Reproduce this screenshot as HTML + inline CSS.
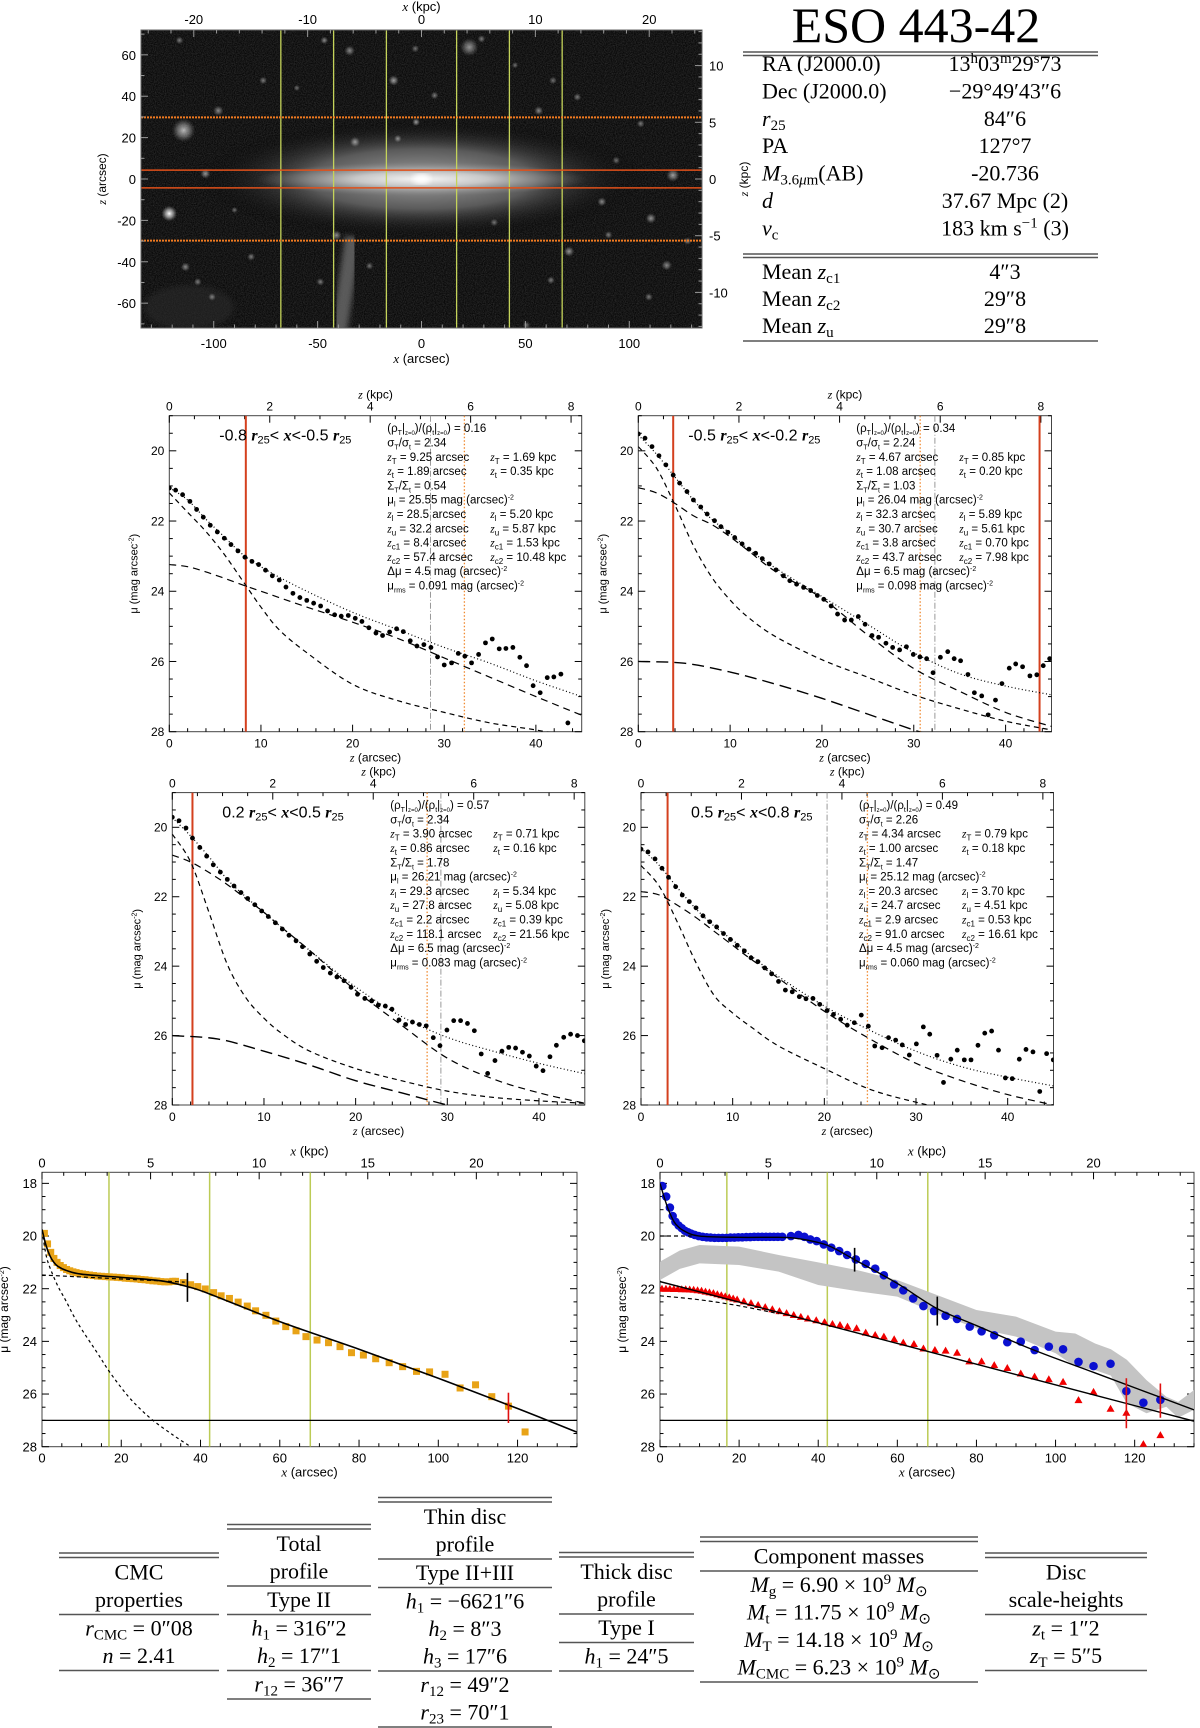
<!DOCTYPE html>
<html><head><meta charset="utf-8"><title>ESO 443-42</title>
<style>
html,body{margin:0;padding:0;background:#fff;}
svg{display:block;}
text{font-family:"Liberation Sans",sans-serif;}
.serif{font-family:"Liberation Serif",serif;}
</style></head>
<body>
<svg id="fig" xmlns="http://www.w3.org/2000/svg" width="1200" height="1728" viewBox="0 0 1200 1728">
<defs>
<radialGradient id="galHalo"><stop offset="0" stop-color="#a0a0a0"/><stop offset="0.5" stop-color="#5a5a5a"/><stop offset="1" stop-color="#000" stop-opacity="0"/></radialGradient>
<radialGradient id="galCore"><stop offset="0" stop-color="#f4f4f4"/><stop offset="0.4" stop-color="#c8c8c8"/><stop offset="1" stop-color="#888" stop-opacity="0"/></radialGradient>
<radialGradient id="starG"><stop offset="0" stop-color="#fff"/><stop offset="0.5" stop-color="#bbb" stop-opacity="0.7"/><stop offset="1" stop-color="#888" stop-opacity="0"/></radialGradient>
<filter id="noise"><feTurbulence type="fractalNoise" baseFrequency="0.9" numOctaves="2" seed="3"/><feColorMatrix type="matrix" values="0 0 0 0 1  0 0 0 0 1  0 0 0 0 1  0.6 0 0 0 -0.15"/></filter>
<filter id="blur3"><feGaussianBlur stdDeviation="3"/></filter>
</defs>
</svg>
<script>
// ---------------- DATA ----------------
const imgGreenX = [-67.7, -42.3, -16.9, 16.9, 42.3, 67.7];
const imgOrangeSolidZ = [4.3, -4.3];
const imgOrangeDotZ = [29.8, -29.8];
const imgStars = [[-114.5,23.5,9,0.7],[-121.4,-16.7,6,1],[121,1.8,5,0.6],[23,63.7,7,0.55],[-13.4,47.6,4,0.6],[-34.6,62,4,0.5],[-97.8,33,4,0.5],[-2.6,27.5,3,0.6],[-32,17.9,4,0.55],[-11.4,19.5,3,0.5],[-104,2.6,4,0.55],[110.4,-19,4,0.55],[86.8,-11,3.5,0.5],[71,-35,4,0.55],[118,-41.7,4,0.5],[75,39.6,3,0.45],[56.4,33,3.5,0.5],[6.3,40.4,3,0.45],[-113.6,-42.5,3.5,0.5],[-107.7,-49.7,3,0.45],[-100.8,-57,3,0.45],[-82,-37.6,3,0.45],[-48.7,-49.7,3,0.45],[-40.9,-27.2,4,0.5],[62.3,-48.9,3,0.45],[109.4,-57,3,0.45],[50.5,-70.6,3,0.4],[93.7,9,3,0.4],[105.5,26.7,3,0.45],[-116.5,67,3,0.45],[-46.8,67,3,0.5],[28.9,67.7,3,0.45],[63.3,47.6,3,0.4],[-76.2,47.6,3,0.45],[-3,63,3,0.4],[-60,44,2.5,0.4],[35,-21,3,0.4],[-25,-42,3,0.4],[90,-27,3,0.45],[128,-30,3,0.45],[-90,-15,2.5,0.4],[45,55,2.5,0.4]];

const gridZ = [0,2,4,6,8,10,12,15,20,25,30,35,40,45];
const outerZ = [0,5,10,15,20,25,30,32];

const p1Z = [0,0.69,1.45,2.25,2.98,3.71,4.47,5.24,6.0,6.73,7.49,8.25,9.02,9.75,10.5,11.24,12.0,12.73,13.49,14.25,15.0,15.75,16.51,17.27,18.04,18.76,19.53,20.29,21.02,21.78,22.55,23.27,24.04,24.8,25.53,26.29,27.02,27.78,28.55,29.27,30.0,30.8,31.53,32.25,32.98,33.75,34.5,35.24,36.0,36.73,37.49,38.25,38.98,39.7,40.47,41.24,41.96,42.73,43.49];
const p1Mu = [21.06,21.12,21.25,21.44,21.67,21.89,22.12,22.31,22.49,22.67,22.85,23.03,23.15,23.24,23.4,23.56,23.68,23.88,24.06,24.18,24.26,24.34,24.42,24.56,24.67,24.71,24.69,24.77,24.86,25.04,25.19,25.26,25.16,25.07,25.15,25.41,25.56,25.52,25.6,25.87,26.1,26.04,25.77,25.85,26.04,25.8,25.47,25.36,25.64,25.63,25.6,25.88,26.12,26.69,26.89,26.46,26.44,26.36,27.75];
const p1Thin = [21.2,21.75,22.3,22.95,23.7,24.45,25.1,25.75,26.65,27.12,27.45,27.75,27.95,28.2];
const p1Thick = [23.24,23.3,23.45,23.63,23.82,24.0,24.18,24.45,24.88,25.35,25.9,26.45,27.0,27.53];
const p1Sum = [21.05,21.4,21.95,22.45,22.95,23.3,23.6,24.0,24.6,25.1,25.6,26.05,26.55,27.0];

const p2Z = [0,0.73,1.49,2.25,3.0,3.8,4.5,5.3,6.0,6.8,7.5,8.3,9.0,9.76,10.5,11.3,12.05,12.78,13.5,14.26,15.0,15.8,16.5,17.24,18.0,18.77,19.5,20.2,21.0,21.7,22.47,23.2,23.96,24.7,25.45,26.17,26.97,27.7,28.46,29.2,29.95,30.67,31.4,32.1,32.9,33.7,34.4,35.1,35.9,36.6,37.4,38.1,38.9,39.6,40.4,41.1,41.85,42.65,43.4,44.1,44.8];
const p2Mu = [19.52,19.64,19.88,20.14,20.4,20.69,20.92,21.16,21.4,21.6,21.8,21.99,22.16,22.32,22.47,22.65,22.8,22.92,23.07,23.22,23.39,23.56,23.7,23.8,23.89,23.98,24.12,24.23,24.42,24.65,24.82,24.82,24.72,24.94,25.26,25.31,25.48,25.6,25.67,25.58,25.8,25.87,25.92,26.32,25.88,25.72,25.92,25.98,26.37,26.89,26.98,27.52,27.1,26.63,26.19,26.07,26.15,26.41,26.38,26.12,25.92];
const p2Thin = [19.88,20.5,21.55,22.7,23.6,24.25,24.75,25.3,25.95,26.45,26.95,27.35,27.7,27.95];
const p2Thick = [21.05,21.2,21.5,21.85,22.1,22.45,22.85,23.45,24.2,25.25,26.2,26.85,27.45,27.85];
const p2Sum = [19.55,20.1,20.75,21.4,21.95,22.35,22.8,23.35,24.15,24.95,25.75,26.35,26.7,26.95];
const p2Outer = [26.0,26.05,26.3,26.65,27.05,27.5,27.95,28.1];

const p3Z = [0,0.73,1.49,2.2,3.0,3.75,4.47,5.24,6.0,6.73,7.49,8.22,9.0,9.75,10.47,11.24,12.0,12.73,13.5,14.2,15.0,15.75,16.47,17.24,17.96,18.73,19.5,20.2,21.0,21.75,22.47,23.24,23.96,24.73,25.45,26.2,26.95,27.7,28.47,29.2,29.96,30.7,31.45,32.2,32.95,33.7,34.4,35.2,35.96,36.7,37.45,38.2,38.95,39.7,40.44,41.2,41.9,42.7,43.45,44.2,44.95];
const p3Mu = [19.71,19.81,20.02,20.31,20.58,20.83,21.08,21.29,21.5,21.69,21.88,22.05,22.23,22.41,22.57,22.75,22.93,23.11,23.27,23.44,23.65,23.86,24.04,24.2,24.31,24.42,24.61,24.81,24.93,25.0,25.12,25.15,25.24,25.55,25.68,25.61,25.68,25.72,26.06,26.29,25.84,25.57,25.57,25.65,25.86,26.53,27.09,26.72,26.45,26.34,26.36,26.48,26.59,26.88,27.01,26.61,26.28,26.05,25.96,26.0,26.15];
const p3Thin = [20.2,21.0,22.45,23.95,24.9,25.5,25.95,26.45,26.95,27.3,27.6,27.78,27.88,27.95];
const p3Thick = [20.8,21.0,21.3,21.65,22.05,22.45,22.9,23.55,24.7,25.7,26.65,27.25,27.65,27.95];
const p3Sum = [19.72,20.25,20.85,21.5,22.0,22.45,22.9,23.55,24.6,25.45,26.05,26.45,26.8,27.1];
const p3Outer = [26.0,26.1,26.45,26.85,27.3,27.65,28.0,28.1];

const p4Z = [0,0.76,1.53,2.29,3.0,3.78,4.5,5.27,6.0,6.76,7.5,8.25,9.0,9.75,10.5,11.27,12.0,12.76,13.5,14.25,15.0,15.75,16.5,17.27,18.0,18.76,19.5,20.3,21.0,21.78,22.5,23.27,24.03,24.8,25.5,26.3,27.0,27.78,28.5,29.27,30.04,30.8,31.5,32.3,33.0,33.8,34.5,35.27,36.0,36.76,37.5,38.25,39.0,39.75,40.5,41.27,42.0,42.76,43.5,44.25,44.98];
const p4Mu = [20.63,20.71,20.91,21.18,21.44,21.71,21.95,22.14,22.32,22.55,22.72,22.87,23.06,23.23,23.4,23.56,23.76,23.87,24.05,24.22,24.44,24.69,24.74,24.88,24.94,24.93,25.1,25.28,25.39,25.53,25.7,25.63,25.41,25.73,26.3,26.35,26.06,26.13,26.27,26.56,26.24,25.75,25.96,26.57,27.35,26.68,26.42,26.7,26.7,26.28,25.93,25.87,26.42,27.22,27.24,26.68,26.4,26.47,27.61,26.52,26.7];
const p4Thin = [21.1,21.7,22.75,23.9,24.85,25.35,25.75,26.3,26.95,27.55,27.92,28.2,28.4,28.6];
const p4Thick = [21.85,21.95,22.25,22.6,23.0,23.4,23.8,24.35,25.3,26.1,26.8,27.3,27.7,28.0];
const p4Sum = [20.6,21.1,21.75,22.35,22.85,23.25,23.7,24.3,25.15,25.85,26.45,26.9,27.2,27.45];

const p1Ann = ['0.16','2.34','9.25','1.69','1.89','0.35','0.54','25.55','28.5','5.20','32.2','5.87','8.4','1.53','57.4','10.48','4.5','0.091'];
const p2Ann = ['0.34','2.24','4.67','0.85','1.08','0.20','1.03','26.04','32.3','5.89','30.7','5.61','3.8','0.70','43.7','7.98','6.5','0.098'];
const p3Ann = ['0.57','2.34','3.90','0.71','0.86','0.16','1.78','26.21','29.3','5.34','27.8','5.08','2.2','0.39','118.1','21.56','6.5','0.083'];
const p4Ann = ['0.49','2.26','4.34','0.79','1.00','0.18','1.47','25.12','20.3','3.70','24.7','4.51','2.9','0.53','91.0','16.61','4.5','0.060'];

const p5X = [0.6,1.4,2.2,3.0,3.8,4.6,5.4,6.2,7.0,7.8,8.6,9.4,10.2,11,12,13,14,15,16,17,18,19,20,21,22,23,24,25,26,27,28,29,30,31,32,33,33.7,35.65,37.5,39.3,41.2,43.3,45.2,47.3,49.5,51.8,53.9,56.5,59.0,61.5,64.1,66.6,69.4,72.3,75.2,78.1,81.1,84.2,87.6,91.0,94.5,97.8,101.7,105.5,109.4,113.5,117.7,121.9];
const p5Mu = [19.9,20.3,20.62,20.85,21.0,21.12,21.2,21.27,21.32,21.36,21.39,21.42,21.44,21.46,21.48,21.5,21.52,21.53,21.54,21.55,21.56,21.57,21.58,21.6,21.61,21.62,21.63,21.65,21.66,21.68,21.7,21.71,21.73,21.74,21.74,21.72,21.72,21.77,21.85,21.92,22.01,22.15,22.27,22.37,22.51,22.66,22.84,23.01,23.23,23.44,23.6,23.82,23.95,24.05,24.2,24.43,24.52,24.66,24.81,24.96,25.14,25.16,25.25,25.77,25.65,26.1,26.46,27.44];
const p5FitX = [0,1,2,3,4,6,10,20,30,36.7,42.3,60,80,100,120,135];
const p5FitMu = [19.75,20.35,20.75,21.0,21.15,21.3,21.45,21.57,21.7,21.92,22.2,23.25,24.3,25.4,26.55,27.45];
const p5CmcX = [0,1,2,4,6,9,14,17,21,24,28,33,37.5];
const p5CmcMu = [19.8,20.7,21.2,21.9,22.45,23.3,24.45,25.15,25.95,26.45,27.0,27.55,28.0];
const p5DiscX = [0,36];
const p5DiscMu = [21.48,21.75];

const p6BlueX = [0.6,1.56,2.5,3.2,3.9,4.7,5.5,6.3,7.1,7.9,8.8,9.8,10.8,11.8,12.8,13.8,14.8,15.8,16.8,17.8,18.8,19.8,20.8,21.8,22.8,23.8,24.8,25.8,26.8,27.8,28.8,29.8,30.9,33.1,35,36.5,38,39.6,41.4,43.3,45.3,47.3,49.5,52,54.4,56.6,59.2,61.5,64,66.6,69.3,72.2,75.1,78.3,81.3,84.5,87.8,91.2,94.7,98.3,101.9,105.8,109.6,113.9,117.9,122.2,126.5];
const p6BlueMu = [18.1,18.5,18.92,19.24,19.46,19.6,19.7,19.8,19.86,19.91,19.96,20.0,20.03,20.05,20.06,20.07,20.07,20.07,20.07,20.06,20.06,20.05,20.05,20.04,20.04,20.03,20.03,20.03,20.03,20.03,20.03,20.03,20.03,20.0,19.96,20.03,20.13,20.19,20.32,20.44,20.57,20.72,20.89,21.06,21.24,21.49,21.84,22.06,22.37,22.66,22.85,23.03,23.15,23.44,23.62,23.77,24.03,24.01,24.33,24.2,24.3,24.78,24.94,24.85,25.89,26.33,26.22];
const p6RedX = [0.5,1.5,2.5,3.5,4.5,5.5,6.5,7.5,8.5,9.5,10.5,11.5,12.5,13.5,14.5,15.5,16.5,17.5,18.5,19.5,21.2,23,24.8,26.6,28.4,30.2,32,33.8,35.6,37.4,39.5,41.6,43.6,45.5,47.4,49.7,52,54.4,56.6,59.2,61.5,64.2,66.6,69.5,72.2,75.1,78.2,81.3,84.5,87.8,91.2,94.7,98.3,101.9,105.8,109.6,113.9,117.9,122.2,126.5];
const p6RedMu = [22.0,22.0,22.0,22.01,22.01,22.02,22.02,22.03,22.04,22.06,22.08,22.11,22.14,22.17,22.21,22.25,22.29,22.33,22.37,22.41,22.48,22.55,22.62,22.7,22.78,22.85,22.93,23.0,23.07,23.13,23.2,23.27,23.34,23.38,23.44,23.5,23.67,23.76,23.82,23.92,24.05,24.1,24.27,24.33,24.35,24.43,24.76,24.76,24.9,25.01,25.22,25.34,25.44,25.54,26.23,25.92,26.56,26.71,27.9,27.56];
const p6BandX = [0,5,10,20,30,40,50,60,70,80,90,100,105,110,114,118,123,128,131,135];
const p6BandTop = [20.97,20.55,20.34,20.4,20.72,21.0,21.3,21.67,22.24,22.81,23.06,23.63,23.7,24.08,24.3,24.7,25.47,26.1,26.3,25.85];
const p6BandBot = [21.67,21.25,21.04,21.1,21.35,21.86,22.1,22.3,22.94,23.5,23.82,24.45,24.96,25.09,25.3,26.35,26.73,26.48,26.9,26.6];
const p6BlueFitX = [0,1,2,3,4,6,10,20,30,35,42.3,49.2,60,70,80,94,110,135];
const p6BlueFitMu = [18.0,18.5,18.95,19.3,19.55,19.8,20.0,20.05,20.05,20.1,20.35,20.9,21.8,22.75,23.4,24.3,25.2,26.6];
const p6RedFitX = [0,30,60,90,120,135];
const p6RedFitMu = [21.73,22.9,24.08,25.26,26.44,27.03];
const p6RedDashX = [0,10,20,30];
const p6RedDashMu = [22.27,22.42,22.65,22.95];
const p6BlueDashX = [0,8];
const p6BlueDashMu = [20.0,20.0];

// ---------------- HELPERS ----------------
const NS = 'http://www.w3.org/2000/svg';
const svg = document.getElementById('fig');
function mk(tag, attrs, parent) {
  const e = document.createElementNS(NS, tag);
  for (const k in attrs) e.setAttribute(k, attrs[k]);
  (parent || svg).appendChild(e);
  return e;
}
function T(str, attrs, parent) { const e = mk('text', attrs, parent); e.innerHTML = str; return e; }
function smooth(pts) {
  let d = 'M' + pts[0][0].toFixed(2) + ',' + pts[0][1].toFixed(2);
  for (let i = 0; i < pts.length - 1; i++) {
    const p0 = pts[i - 1] || pts[i], p1 = pts[i], p2 = pts[i + 1], p3 = pts[i + 2] || p2;
    const c1 = [p1[0] + (p2[0] - p0[0]) / 6, p1[1] + (p2[1] - p0[1]) / 6];
    const c2 = [p2[0] - (p3[0] - p1[0]) / 6, p2[1] - (p3[1] - p1[1]) / 6];
    d += 'C' + c1.map(v => v.toFixed(2)).join(',') + ' ' + c2.map(v => v.toFixed(2)).join(',') + ' ' + p2[0].toFixed(2) + ',' + p2[1].toFixed(2);
  }
  return d;
}
const it = s => '<tspan font-family="Liberation Serif" font-style="italic">' + s + '</tspan>';
const sb = (s, fs) => '<tspan baseline-shift="-2.5" font-size="' + (fs || 8) + '">' + s + '</tspan>';
const sp = (s, fs) => '<tspan baseline-shift="4" font-size="' + (fs || 8) + '">' + s + '</tspan>';
const MUL = 'μ (mag arcsec' + sp('-2', 7) + ')';

function drawAxes(g, b, o) {
  const sx = v => b.x0 + (v - o.xr[0]) / (o.xr[1] - o.xr[0]) * (b.x1 - b.x0);
  const sy = v => b.y0 + (v - o.yr[0]) / (o.yr[1] - o.yr[0]) * (b.y1 - b.y0);
  const tc = o.tc || '#000', fs = o.fs || 12;
  const frame = mk('rect', {x: b.x0, y: b.y0, width: b.x1 - b.x0, height: b.y1 - b.y0, fill: 'none', stroke: o.fc || '#444', 'stroke-width': 1}, g);
  
  
  for (let v = Math.ceil(o.xr[0] / o.xMin - 1e-9) * o.xMin; v <= o.xr[1] + 1e-9; v += o.xMin) {
    const maj = Math.abs(v / o.xMaj - Math.round(v / o.xMaj)) < 1e-6, L = maj ? 7 : 3.5, X = sx(v);
    const t = mk('line', {x1: X, y1: b.y1, x2: X, y2: b.y1 - L, stroke: tc, 'stroke-width': 1}, g);
    
    
    if (maj) {
      const lb = T(String(Math.round(v)), {x: X, y: b.y1 + 16, 'text-anchor': 'middle', 'font-size': fs}, g);
      
      
    }
  }
  for (let k = Math.ceil(o.xr[0] / o.topScale / o.topMin - 1e-9) * o.topMin; k * o.topScale <= o.xr[1] + 1e-9; k += o.topMin) {
    const maj = Math.abs(k / o.topMaj - Math.round(k / o.topMaj)) < 1e-6, L = maj ? 7 : 3.5, X = sx(k * o.topScale);
    const t = mk('line', {x1: X, y1: b.y0, x2: X, y2: b.y0 + L, stroke: tc, 'stroke-width': 1}, g);
    
    
    if (maj) {
      const lb = T(String(Math.round(k)), {x: X, y: b.y0 - 5, 'text-anchor': 'middle', 'font-size': fs}, g);
      
      
    }
  }
  const yLo = Math.min(o.yr[0], o.yr[1]), yHi = Math.max(o.yr[0], o.yr[1]);
  for (let v = Math.ceil(yLo / o.yMin - 1e-9) * o.yMin; v <= yHi + 1e-9; v += o.yMin) {
    const maj = Math.abs(v / o.yMaj - Math.round(v / o.yMaj)) < 1e-6, L = maj ? 7 : 3.5, Y = sy(v);
    const t = mk('line', {x1: b.x0, y1: Y, x2: b.x0 + L, y2: Y, stroke: tc, 'stroke-width': 1}, g);
    
    
    const t2 = mk('line', {x1: b.x1, y1: Y, x2: b.x1 - L, y2: Y, stroke: tc, 'stroke-width': 1}, g);
    
    
    if (maj) {
      const lb = T(String(Math.round(v)), {x: b.x0 - 5, y: Y + fs * 0.36, 'text-anchor': 'end', 'font-size': fs}, g);
      
      
    }
  }
  const xt = T(o.xLabel, {x: (b.x0 + b.x1) / 2, y: b.y1 + 30, 'text-anchor': 'middle', 'font-size': fs}, g);
  
  
  const tt = T(o.topLabel, {x: (b.x0 + b.x1) / 2, y: b.y0 - 17, 'text-anchor': 'middle', 'font-size': fs}, g);
  
  
  const yx = b.x0 - o.yOff, yc = (b.y0 + b.y1) / 2;
  const yt = T(o.yLabel, {x: yx, y: yc, 'text-anchor': 'middle', 'font-size': fs - 1, transform: 'rotate(-90 ' + yx + ' ' + yc + ')'}, g);
  
  
  return {sx, sy};
}
function clipFor(id, b) {
  const cp = mk('clipPath', {id: id}, svg);
  mk('rect', {x: b.x0, y: b.y0, width: b.x1 - b.x0, height: b.y1 - b.y0}, cp);
  return 'url(#' + id + ')';
}
function curve(g, xs, ys, sx, sy, attrs) {
  const pts = []; const n = Math.min(xs.length, ys.length);
  for (let i = 0; i < n; i++) pts.push([sx(xs[i]), sy(ys[i])]);
  const a = Object.assign({d: smooth(pts), fill: 'none', stroke: '#000', 'stroke-width': 1.2}, attrs);
  return mk('path', a, g);
}
function vline(g, X, b, attrs) { return mk('line', Object.assign({x1: X, y1: b.y0, x2: X, y2: b.y1}, attrs), g); }

// ---------------- IMAGE PANEL ----------------
(function () {
  const b = {x0: 141, x1: 702, y0: 30, y1: 328};
  const g = mk('g', {});
  
  
  const sx = v => b.x0 + (v + 135) / 270 * (b.x1 - b.x0);
  const sy = v => b.y0 + (72 - v) / 144 * (b.y1 - b.y0);
  const cl = clipFor('clipImg', b);
  const ig = mk('g', {'clip-path': cl}, g);
  const bg = mk('rect', {x: b.x0, y: b.y0, width: b.x1 - b.x0, height: b.y1 - b.y0, fill: '#080808'}, ig);
  
  
  const nz = mk('rect', {x: b.x0, y: b.y0, width: b.x1 - b.x0, height: b.y1 - b.y0, filter: 'url(#noise)', opacity: 0.4}, ig);
  
  
  const stream = mk('path', {d: 'M' + sx(-33) + ',' + sy(-28) + ' Q' + sx(-36) + ',' + sy(-50) + ' ' + sx(-40) + ',' + sy(-75), stroke: '#666', 'stroke-width': 16, fill: 'none', filter: 'url(#blur3)', opacity: 0.85}, ig);
  
  
  const patch = mk('ellipse', {cx: sx(-112), cy: sy(-62), rx: 45, ry: 22, fill: '#2c2c2c', filter: 'url(#blur3)', opacity: 0.6}, ig);
  
  
  const halo = mk('ellipse', {cx: sx(0), cy: sy(0), rx: 225, ry: 60, fill: 'url(#galHalo)'}, ig);
  
  
  const core = mk('ellipse', {cx: sx(0), cy: sy(0), rx: 165, ry: 17, fill: 'url(#galCore)'}, ig);
  
  
  const nuc = mk('ellipse', {cx: sx(0), cy: sy(0), rx: 9, ry: 5, fill: '#fff', filter: 'url(#blur3)'}, ig);
  
  
  for (const s of imgStars) {
    const st = mk('circle', {cx: sx(s[0]), cy: sy(s[1]), r: s[2] * 1.3, fill: 'url(#starG)', opacity: s[3]}, ig);
    
    
  }
  for (const x of imgGreenX) {
    const l = mk('line', {x1: sx(x), y1: b.y0, x2: sx(x), y2: b.y1, stroke: '#c4d35a', 'stroke-width': 1.3}, ig);
    
    
  }
  for (const z of imgOrangeSolidZ) {
    const l = mk('line', {x1: b.x0, y1: sy(z), x2: b.x1, y2: sy(z), stroke: '#e0501a', 'stroke-width': 1.5}, ig);
    
    
  }
  for (const z of imgOrangeDotZ) {
    const l = mk('line', {x1: b.x0, y1: sy(z), x2: b.x1, y2: sy(z), stroke: '#f07a20', 'stroke-width': 2, 'stroke-dasharray': '2,1'}, ig);
    
    
  }
  const fr = mk('rect', {x: b.x0, y: b.y0, width: b.x1 - b.x0, height: b.y1 - b.y0, fill: 'none', stroke: '#666'}, g);
  
  
  const fs = 13;
  for (let v = -130; v <= 130; v += 10) {
    const maj = v % 50 === 0, X = sx(v);
    const t = mk('line', {x1: X, y1: b.y1, x2: X, y2: b.y1 - (maj ? 7 : 3.5), stroke: '#999'}, g);
    
    
    if (maj) {
      const lb = T(String(v), {x: X, y: b.y1 + 20, 'text-anchor': 'middle', 'font-size': fs}, g);
      
      
    }
  }
  for (let k = -24; k <= 24; k += 2) {
    const maj = k % 10 === 0, X = sx(k * 5.48);
    const t = mk('line', {x1: X, y1: b.y0, x2: X, y2: b.y0 + (maj ? 7 : 3.5), stroke: '#999'}, g);
    
    
    if (maj) {
      const lb = T(String(k), {x: X, y: b.y0 - 6, 'text-anchor': 'middle', 'font-size': fs}, g);
      
      
    }
  }
  for (let v = -70; v <= 70; v += 10) {
    const maj = v % 20 === 0, Y = sy(v);
    const t = mk('line', {x1: b.x0, y1: Y, x2: b.x0 + (maj ? 7 : 3.5), y2: Y, stroke: '#999'}, g);
    
    
    if (maj) {
      const lb = T(String(v), {x: b.x0 - 5, y: Y + 5, 'text-anchor': 'end', 'font-size': fs}, g);
      
      
    }
  }
  for (let k = -13; k <= 13; k += 1) {
    const maj = k % 5 === 0, Y = sy(k * 5.48);
    const t = mk('line', {x1: b.x1, y1: Y, x2: b.x1 - (maj ? 7 : 3.5), y2: Y, stroke: '#999'}, g);
    
    
    if (maj) {
      const lb = T(String(k), {x: b.x1 + 7, y: Y + 5, 'text-anchor': 'start', 'font-size': fs}, g);
      
      
    }
  }
  const xt = T(it('x') + ' (arcsec)', {x: sx(0), y: b.y1 + 35, 'text-anchor': 'middle', 'font-size': fs}, g);
  
  
  const tt = T(it('x') + ' (kpc)', {x: sx(0), y: 11, 'text-anchor': 'middle', 'font-size': fs}, g);
  
  
  const yt = T(it('z') + ' (arcsec)', {x: 106, y: sy(0), 'text-anchor': 'middle', 'font-size': fs - 1, transform: 'rotate(-90 106 ' + sy(0) + ')'}, g);
  
  
  const rt = T(it('z') + ' (kpc)', {x: 748, y: sy(0), 'text-anchor': 'middle', 'font-size': fs - 1, transform: 'rotate(-90 748 ' + sy(0) + ')'}, g);
  
  
})();

// ---------------- PROFILE PANELS ----------------
function profile(id, b, dz, dmu, thin, thick, sum, outer, reds, orange, gray, titleA, titleB, ann) {
  const g = mk('g', {});
  
  
  const ax = drawAxes(g, b, {xr: [0, 45], yr: [19, 28], xMaj: 10, xMin: 2, topScale: 5.48, topMaj: 2, topMin: 0.5, yMaj: 2, yMin: 0.5, fs: 12, yOff: 32,
    xLabel: it('z') + ' (arcsec)', topLabel: it('z') + ' (kpc)', yLabel: MUL});
  const sx = ax.sx, sy = ax.sy;
  const cg = mk('g', {'clip-path': clipFor('clip-' + id, b)}, g);
  for (const r of reds) {
    const l = vline(cg, sx(r), b, {stroke: '#d4401e', 'stroke-width': 2});
    
    
  }
  const lo = vline(cg, sx(orange), b, {stroke: '#f08a30', 'stroke-width': 1.3, 'stroke-dasharray': '1.5,2'});
  
  
  const lg = vline(cg, sx(gray), b, {stroke: '#999', 'stroke-width': 1, 'stroke-dasharray': '6,2,1,2'});
  
  
  const c1 = curve(cg, gridZ, thin, sx, sy, {'stroke-dasharray': '5,4'});
  
  
  const c2 = curve(cg, gridZ, thick, sx, sy, {'stroke-dasharray': '7,5'});
  
  
  if (outer) {
    const c4 = curve(cg, outerZ, outer, sx, sy, {'stroke-dasharray': '12,6', 'stroke-width': 1.4});
    
    
  }
  const c3 = curve(cg, gridZ, sum, sx, sy, {'stroke-dasharray': '1,2.5'});
  
  
  const n = Math.min(dz.length, dmu.length);
  for (let i = 0; i < n; i++) {
    const d = mk('circle', {cx: sx(dz[i]), cy: sy(dmu[i]), r: 2.4, fill: '#000'}, cg);
    
    
  }
  const bi = s => '<tspan font-family="Liberation Serif" font-style="italic" font-weight="bold">' + s + '</tspan>';
  const ttl = T(titleA + ' ' + bi('r') + sb('25', 11) + '&lt; ' + bi('x') + '&lt;' + titleB + ' ' + bi('r') + sb('25', 11),
    {x: b.x0 + 50, y: b.y0 + 25, 'font-size': 16}, g);
  
  
  const a = ann, X1 = b.x0 + 218, X2 = b.x0 + 321, Y0 = b.y0 + 16.5, dy = 14.3, fs = 11.5;
  const rows = [
    ['(ρ' + sb('T', 7) + '|' + sb('z=0', 6) + ')/(ρ' + sb('t', 7) + '|' + sb('z=0', 6) + ') = ' + a[0], null],
    ['σ' + sb('T', 7) + '/σ' + sb('t', 7) + ' = ' + a[1], null],
    [it('z') + sb('T') + ' = ' + a[2] + ' arcsec', it('z') + sb('T') + ' = ' + a[3] + ' kpc'],
    [it('z') + sb('t') + ' = ' + a[4] + ' arcsec', it('z') + sb('t') + ' = ' + a[5] + ' kpc'],
    ['Σ' + sb('T', 7) + '/Σ' + sb('t', 7) + ' = ' + a[6], null],
    ['μ' + sb('l', 7) + ' = ' + a[7] + ' mag (arcsec)' + sp('-2', 7), null],
    [it('z') + sb('l') + ' = ' + a[8] + ' arcsec', it('z') + sb('l') + ' = ' + a[9] + ' kpc'],
    [it('z') + sb('u') + ' = ' + a[10] + ' arcsec', it('z') + sb('u') + ' = ' + a[11] + ' kpc'],
    [it('z') + sb('c1') + ' = ' + a[12] + ' arcsec', it('z') + sb('c1') + ' = ' + a[13] + ' kpc'],
    [it('z') + sb('c2') + ' = ' + a[14] + ' arcsec', it('z') + sb('c2') + ' = ' + a[15] + ' kpc'],
    ['Δμ = ' + a[16] + ' mag (arcsec)' + sp('-2', 7), null],
    ['μ' + sb('rms', 7) + ' = ' + a[17] + ' mag (arcsec)' + sp('-2', 7), null]
  ];
  rows.forEach((r, i) => {
    const t1 = T(r[0], {x: X1, y: Y0 + i * dy, 'font-size': fs}, g);
    
    
    if (r[1]) {
      const t2 = T(r[1], {x: X2, y: Y0 + i * dy, 'font-size': fs}, g);
      
      
    }
  });
}
profile('profile-panel-1', {x0: 169.3, x1: 581.7, y0: 415.7, y1: 731.7}, p1Z, p1Mu, p1Thin, p1Thick, p1Sum, null, [8.35], 32.2, 28.5, '-0.8', '-0.5', p1Ann);
profile('profile-panel-2', {x0: 638.3, x1: 1051.5, y0: 415.7, y1: 731.7}, p2Z, p2Mu, p2Thin, p2Thick, p2Sum, p2Outer, [3.8, 43.7], 30.7, 32.3, '-0.5', '-0.2', p2Ann);
profile('profile-panel-3', {x0: 172.3, x1: 584.8, y0: 792.6, y1: 1105}, p3Z, p3Mu, p3Thin, p3Thick, p3Sum, p3Outer, [2.2], 27.8, 29.3, '0.2', '0.5', p3Ann);
profile('profile-panel-4', {x0: 641, x1: 1053.5, y0: 792.6, y1: 1105}, p4Z, p4Mu, p4Thin, p4Thick, p4Sum, null, [2.9], 24.7, 20.3, '0.5', '0.8', p4Ann);

// ---------------- RADIAL PROFILE PANELS ----------------
function radialBase(id, b) {
  const g = mk('g', {});
  
  
  const ax = drawAxes(g, b, {xr: [0, 135], yr: [17.58, 28], xMaj: 20, xMin: 5, topScale: 5.48, topMaj: 5, topMin: 1, yMaj: 2, yMin: 0.5, fs: 13, yOff: 34,
    xLabel: it('x') + ' (arcsec)', topLabel: it('x') + ' (kpc)', yLabel: MUL});
  const cg = mk('g', {'clip-path': clipFor('clip-' + id, b)}, g);
  for (const x of imgGreenX.slice(3)) {
    const l = vline(cg, ax.sx(x), b, {stroke: '#bccb55', 'stroke-width': 1.5});
    
    
  }
  const h = mk('line', {x1: b.x0, y1: ax.sy(27), x2: b.x1, y2: ax.sy(27), stroke: '#000', 'stroke-width': 1.2}, cg);
  
  
  return {g, cg, sx: ax.sx, sy: ax.sy};
}
function tickMark(cg, X, y1, y2, color, name) {
  const l = mk('line', {x1: X, y1: y1, x2: X, y2: y2, stroke: color, 'stroke-width': 1.6}, cg);
  
  
}
(function () {
  const b = {x0: 42, x1: 577, y0: 1172.3, y1: 1446.7};
  const P = radialBase('total-profile-panel', b);
  const sx = P.sx, sy = P.sy, cg = P.cg;
  const n = Math.min(p5X.length, p5Mu.length);
  for (let i = 0; i < n; i++) {
    const s = mk('rect', {x: sx(p5X[i]) - 3.5, y: sy(p5Mu[i]) - 3.5, width: 7, height: 7, fill: '#e8a317'}, cg);
    
    
  }
  const c1 = curve(cg, p5CmcX, p5CmcMu, sx, sy, {'stroke-dasharray': '3,3'});
  
  
  const c2 = curve(cg, p5DiscX, p5DiscMu, sx, sy, {'stroke-dasharray': '4,3'});
  
  
  const c3 = curve(cg, p5FitX, p5FitMu, sx, sy, {'stroke-width': 1.6});
  
  
  tickMark(cg, sx(36.7), sy(21.4), sy(22.5), '#000', 'break-marker');
  tickMark(cg, sx(117.7), sy(25.95), sy(27.1), '#e01010', 'r25-marker');
})();
(function () {
  const b = {x0: 660, x1: 1194, y0: 1172.3, y1: 1446.7};
  const P = radialBase('component-profile-panel', b);
  const sx = P.sx, sy = P.sy, cg = P.cg;
  let d = '';
  for (let i = 0; i < p6BandX.length; i++) d += (i ? 'L' : 'M') + sx(p6BandX[i]).toFixed(1) + ',' + sy(p6BandTop[i]).toFixed(1);
  for (let i = p6BandX.length - 1; i >= 0; i--) d += 'L' + sx(p6BandX[i]).toFixed(1) + ',' + sy(p6BandBot[i]).toFixed(1);
  const band = mk('path', {d: d + 'Z', fill: '#c4c4c4'}, cg);
  
  
  const n1 = Math.min(p6RedX.length, p6RedMu.length);
  for (let i = 0; i < n1; i++) {
    const X = sx(p6RedX[i]), Y = sy(p6RedMu[i]);
    const t = mk('path', {d: 'M' + X + ',' + (Y - 4) + 'L' + (X + 4) + ',' + (Y + 3) + 'L' + (X - 4) + ',' + (Y + 3) + 'Z', fill: '#f00000'}, cg);
    
    
  }
  const n2 = Math.min(p6BlueX.length, p6BlueMu.length);
  for (let i = 0; i < n2; i++) {
    const c = mk('circle', {cx: sx(p6BlueX[i]), cy: sy(p6BlueMu[i]), r: 4.3, fill: '#0a10d0'}, cg);
    
    
  }
  const f1 = curve(cg, p6BlueFitX, p6BlueFitMu, sx, sy, {'stroke-width': 1.4});
  
  
  const f2 = curve(cg, p6RedFitX, p6RedFitMu, sx, sy, {'stroke-width': 1.4});
  
  
  const f3 = curve(cg, p6RedDashX, p6RedDashMu, sx, sy, {'stroke-dasharray': '4,3'});
  
  
  const f4 = curve(cg, p6BlueDashX, p6BlueDashMu, sx, sy, {'stroke-dasharray': '4,3'});
  
  
  tickMark(cg, sx(49.2), sy(20.45), sy(21.35), '#000', 'break-marker');
  tickMark(cg, sx(70.1), sy(22.3), sy(23.4), '#000', 'break-marker');
  tickMark(cg, sx(117.9), sy(25.4), sy(27.3), '#e01010', 'r25-marker');
  tickMark(cg, sx(126.5), sy(25.6), sy(26.9), '#e01010', 'r25-marker');
})();

// ---------------- TABLES ----------------
function hl(x0, x1, y, name) {
  const l = mk('line', {x1: x0, y1: y, x2: x1, y2: y, stroke: '#555', 'stroke-width': 1.6});
  
  
}
function ct(str, x, y, fs, name) {
  const t = T(str, {x: x, y: y, 'text-anchor': 'middle', 'font-size': fs || 22, class: 'serif'});
  
  
  return t;
}
function lt(str, x, y, fs, name) {
  const t = T(str, {x: x, y: y, 'font-size': fs || 22, class: 'serif'});
  
  
  return t;
}
const si = s => '<tspan font-style="italic">' + s + '</tspan>';
const ssb = s => '<tspan baseline-shift="-4" font-size="15">' + s + '</tspan>';
const ssp = s => '<tspan baseline-shift="8" font-size="15">' + s + '</tspan>';
const AS = '″';

// galaxy info table
ct('ESO 443-42', 916, 42, 50, 'galaxy-name');
hl(743, 1098, 52, 'table-rule'); hl(743, 1098, 55.5, 'table-rule');
const infoL = ['RA (J2000.0)', 'Dec (J2000.0)', si('r') + ssb('25'), 'PA', si('M') + ssb('3.6' + si('μ') + 'm') + '(AB)', si('d'), si('v') + ssb('c')];
const infoV = ['13' + ssp('h') + '03' + ssp('m') + '29' + ssp('s') + '73', '−29°49′43' + AS + '6', '84' + AS + '6', '127°7', '-20.736', '37.67 Mpc  (2)', '183 km s' + ssp('−1') + '  (3)'];
infoL.forEach((s, i) => { lt(s, 762, 71 + i * 27.4, 22, 'info-label'); ct(infoV[i], 1005, 71 + i * 27.4, 22, 'info-value'); });
hl(743, 1098, 254, 'table-rule'); hl(743, 1098, 257.5, 'table-rule');
const meanL = ['Mean ' + si('z') + ssb('c1'), 'Mean ' + si('z') + ssb('c2'), 'Mean ' + si('z') + ssb('u')];
const meanV = ['4' + AS + '3', '29' + AS + '8', '29' + AS + '8'];
meanL.forEach((s, i) => { lt(s, 762, 279 + i * 27, 22, 'mean-label'); ct(meanV[i], 1005, 279 + i * 27, 22, 'mean-value'); });
hl(743, 1098, 341, 'table-rule');

// bottom tables
function table(x0, x1, top, header, sections, name) {
  const cx = (x0 + x1) / 2;
  hl(x0, x1, top, name + '-rule'); hl(x0, x1, top + 4.5, name + '-rule');
  let y = top + 4.5;
  header.forEach((h, i) => ct(h, cx, y + 22 + i * 27.5, 22, name + '-header'));
  y = y + header.length * 27.5 + 2;
  sections.forEach(sec => {
    hl(x0, x1, y, name + '-rule');
    sec.forEach((r, i) => ct(r, cx, y + 21 + i * 27.5, 22, name + '-cell'));
    y = y + sec.length * 27.5 + 1;
  });
  hl(x0, x1, y, name + '-rule');
}
table(59, 219, 1553, ['CMC', 'properties'], [[si('r') + ssb('CMC') + ' = 0' + AS + '08', si('n') + ' = 2.41']], 'cmc-table');
table(227, 371, 1524.5, ['Total', 'profile'], [['Type II'], [si('h') + ssb('1') + ' = 316' + AS + '2', si('h') + ssb('2') + ' = 17' + AS + '1'], [si('r') + ssb('12') + ' = 36' + AS + '7']], 'total-table');
table(378, 552, 1497.5, ['Thin disc', 'profile'], [['Type II+III'], [si('h') + ssb('1') + ' = −6621' + AS + '6', si('h') + ssb('2') + ' = 8' + AS + '3', si('h') + ssb('3') + ' = 17' + AS + '6'], [si('r') + ssb('12') + ' = 49' + AS + '2', si('r') + ssb('23') + ' = 70' + AS + '1']], 'thin-table');
table(559, 694, 1552.5, ['Thick disc', 'profile'], [['Type I'], [si('h') + ssb('1') + ' = 24' + AS + '5']], 'thick-table');
const MS = '<tspan font-style="italic">M</tspan>';
table(700, 978, 1537, ['Component masses'], [[MS + ssb('g') + ' = 6.90 × 10' + ssp('9') + ' ' + MS + ssb('⊙'), MS + ssb('t') + ' = 11.75 × 10' + ssp('9') + ' ' + MS + ssb('⊙'), MS + ssb('T') + ' = 14.18 × 10' + ssp('9') + ' ' + MS + ssb('⊙'), MS + ssb('CMC') + ' = 6.23 × 10' + ssp('9') + ' ' + MS + ssb('⊙')]], 'mass-table');
table(985, 1147, 1553, ['Disc', 'scale-heights'], [[si('z') + ssb('t') + ' = 1' + AS + '2', si('z') + ssb('T') + ' = 5' + AS + '5']], 'scaleheight-table');
</script>
</body></html>
